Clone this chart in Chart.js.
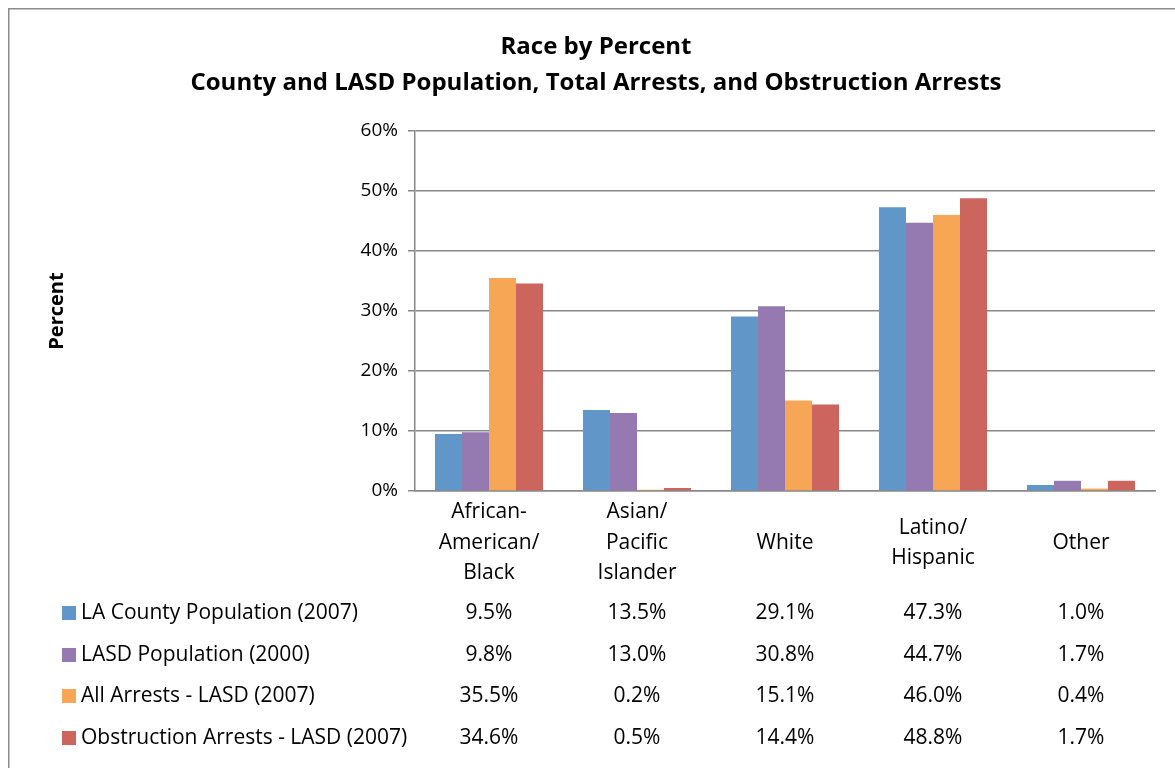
<!DOCTYPE html>
<html>
<head>
<meta charset="utf-8">
<script src="https://cdn.jsdelivr.net/npm/chart.js@4.4.1/dist/chart.umd.min.js"></script>
<style>
  body { margin: 0; background: #fff; }
  canvas { display: block; }
</style>
</head>
<body>
<canvas id="raceChart" width="1175" height="768"></canvas>
<script>
const titleLines = ['Race by Percent', 'County and LASD Population, Total Arrests, and Obstruction Arrests']
const yTitle = 'Percent'
const categories = [
    ['African-', 'American/', 'Black'],
    ['Asian/', 'Pacific', 'Islander'],
    ['White'],
    ['Latino/', 'Hispanic'],
    ['Other']
]
const seriesNames = ['LA County Population (2007)', 'LASD Population (2000)', 'All Arrests - LASD (2007)', 'Obstruction Arrests - LASD (2007)']
const laCounty = [9.5, 13.5, 29.1, 47.3, 1.0]
const lasdPop = [9.8, 13.0, 30.8, 44.7, 1.7]
const allArrests = [35.5, 0.2, 15.1, 46.0, 0.4]
const obstruction = [34.6, 0.5, 14.4, 48.8, 1.7]
const yTicks = [0, 10, 20, 30, 40, 50, 60]

const colors = ['#6196c9', '#9579b1', '#f7a656', '#cd655f']
const FONT = '"Open Sans", sans-serif'
const GRID = '#888888'

const extras = {
    id: 'extras',
    beforeDraw(chart) {
        const ctx = chart.ctx
        ctx.save()
        ctx.fillStyle = '#ffffff'
        ctx.fillRect(0, 0, chart.width, chart.height)
        ctx.strokeStyle = '#8c8c8c'
        ctx.lineWidth = 1.5
        ctx.beginPath()
        ctx.moveTo(8.75, chart.height)
        ctx.lineTo(8.75, 8.75)
        ctx.lineTo(chart.width, 8.75)
        ctx.stroke()
        ctx.restore()
    },
    afterDraw(chart) {
        const ctx = chart.ctx
        const xs = chart.scales.x
        const area = chart.chartArea
        ctx.save()
        ctx.fillStyle = '#000'
        ctx.textAlign = 'center'
        ctx.textBaseline = 'middle'

        // title
        ctx.font = 'bold 24px ' + FONT
        ctx.fillText(titleLines[0], 596, 47)
        ctx.fillText(titleLines[1], 596, 83)

        // y axis title
        ctx.save()
        ctx.translate(57, (area.top + area.bottom) / 2)
        ctx.rotate(-Math.PI / 2)
        ctx.font = 'bold 20px ' + FONT
        ctx.fillText(yTitle, 0, 0)
        ctx.restore()

        // category labels, centred as a block
        ctx.font = '21px ' + FONT
        const lh = 30.5
        categories.forEach((lines, i) => {
            const cx = xs.getPixelForTick(i)
            const y0 = 543 - (lines.length - 1) * lh / 2
            lines.forEach((t, j) => ctx.fillText(t, cx, y0 + j * lh))
        })

        // data table
        const rowY = [613, 655, 696, 738]
        chart.data.datasets.forEach((ds, r) => {
            const y = rowY[r]
            ctx.fillStyle = ds.backgroundColor
            ctx.fillRect(62, y - 7, 14, 14)
            ctx.fillStyle = '#000'
            ctx.textAlign = 'left'
            ctx.fillText(ds.label, 81, y)
            ctx.textAlign = 'center'
            ds.data.forEach((v, i) => {
                ctx.fillText(v.toFixed(1) + '%', xs.getPixelForTick(i), y)
            })
        })
        ctx.restore()
    }
}

const ctx = document.getElementById('raceChart').getContext('2d')
const myChart = new Chart(ctx, {
    type: 'bar',
    data: {
        labels: categories.map(c => c.join(' ')),
        datasets: [
            { label: seriesNames[0], data: laCounty, backgroundColor: colors[0] },
            { label: seriesNames[1], data: lasdPop, backgroundColor: colors[1] },
            { label: seriesNames[2], data: allArrests, backgroundColor: colors[2] },
            { label: seriesNames[3], data: obstruction, backgroundColor: colors[3] }
        ]
    },
    options: {
        responsive: false,
        animation: false,
        devicePixelRatio: 1,
        layout: { padding: { left: 0, top: 131, right: 20, bottom: 0 } },
        datasets: { bar: { categoryPercentage: 0.73, barPercentage: 1 } },
        plugins: { legend: { display: false }, title: { display: false }, tooltip: { enabled: false } },
        scales: {
            x: {
                grid: { display: false },
                border: { display: true, color: GRID, width: 1.5 },
                ticks: { display: false },
                afterFit: s => { s.height = 277 }
            },
            y: {
                min: yTicks[0],
                max: yTicks[yTicks.length - 1],
                afterBuildTicks: s => { s.ticks = yTicks.map(v => ({ value: v })) },
                grid: { color: GRID, lineWidth: 1.5, tickLength: 7, drawTicks: true },
                border: { display: true, color: GRID, width: 1.5 },
                ticks: {
                    padding: 10,
                    color: '#000',
                    font: { family: FONT, size: 19 },
                    callback: v => v + '%'
                },
                afterFit: s => { s.width = 415 }
            }
        }
    },
    plugins: [extras]
})
</script>
</body>
</html>
